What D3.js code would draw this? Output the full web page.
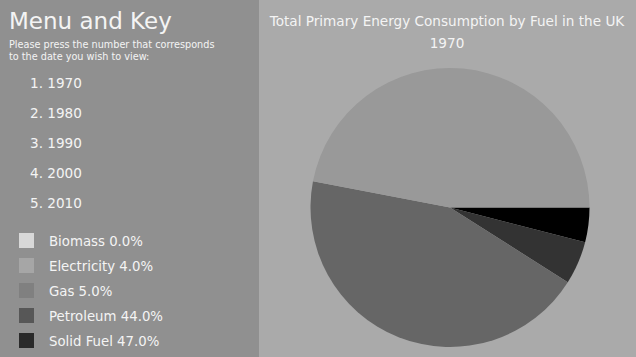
<!DOCTYPE html>
<html><head><meta charset="utf-8">
<script src="https://cdn.jsdelivr.net/npm/d3@7"></script>
<style>html,body{margin:0;padding:0;background:#aaaaaa;}svg{display:block;}</style>
</head><body>
<script>
const categories = ["Biomass", "Electricity", "Gas", "Petroleum", "Solid Fuel"];
const values = [0.0, 4.0, 5.0, 44.0, 47.0];
const years = ["1970", "1980", "1990", "2000", "2010"];
const keyColors = ["#d8d8d8", "#a6a6a6", "#808080", "#575757", "#2a2a2a"];
const pieColors = ["#d8d8d8", "#000000", "#333333", "#666666", "#999999"];
const chartTitle = "Total Primary Energy Consumption by Fuel in the UK";
const selectedYear = "1970";

const W = 636, H = 357, panelW = 259;
const font = "'DejaVu Sans', sans-serif";
const svg = d3.select("body").append("svg").attr("width", W).attr("height", H);

svg.append("rect").attr("x", 0).attr("y", 0).attr("width", W).attr("height", H).attr("fill", "#aaaaaa");
svg.append("rect").attr("x", 0).attr("y", 0).attr("width", panelW).attr("height", H).attr("fill", "#909090");

// Menu
svg.append("text").attr("x", 9).attr("y", 29).attr("fill", "#f4f4f4")
  .style("font-family", font).style("font-size", "23px").text("Menu and Key");
svg.append("text").attr("x", 9).attr("y", 48).attr("fill", "#f4f4f4")
  .style("font-family", font).style("font-size", "9.7px").text("Please press the number that corresponds");
svg.append("text").attr("x", 9).attr("y", 60).attr("fill", "#f4f4f4")
  .style("font-family", font).style("font-size", "9.7px").text("to the date you wish to view:");

svg.append("g").selectAll("text").data(years).join("text")
  .attr("x", 30).attr("y", (d, i) => 88 + i * 30)
  .attr("fill", "#f4f4f4").style("font-family", font).style("font-size", "13.6px")
  .text((d, i) => (i + 1) + ". " + d);

// Key
const key = svg.append("g").selectAll("g").data(categories).join("g")
  .attr("transform", (d, i) => `translate(0,${233 + i * 25})`);
key.append("rect").attr("x", 19).attr("y", 0).attr("width", 15).attr("height", 15)
  .attr("fill", (d, i) => keyColors[i]);
key.append("text").attr("x", 49).attr("y", 13).attr("fill", "#f4f4f4")
  .style("font-family", font).style("font-size", "13.3px")
  .text((d, i) => d + " " + values[i].toFixed(1) + "%");

// Title
const cx = 450, cy = 207.5, r = 139.5;
svg.append("text").attr("x", 447).attr("y", 26).attr("text-anchor", "middle").attr("fill", "#f4f4f4")
  .style("font-family", font).style("font-size", "13.6px").text(chartTitle);
svg.append("text").attr("x", 447).attr("y", 48).attr("text-anchor", "middle").attr("fill", "#f4f4f4")
  .style("font-family", font).style("font-size", "13.6px").text(selectedYear);

// Pie
const pie = d3.pie().sort(null).value(d => d.v)
  .startAngle(Math.PI / 2).endAngle(Math.PI / 2 + 2 * Math.PI);
const arc = d3.arc().innerRadius(0).outerRadius(r);
const data = categories.map((c, i) => ({ c, v: values[i], i }));
svg.append("g").attr("transform", `translate(${cx},${cy})`)
  .selectAll("path").data(pie(data)).join("path")
  .attr("d", arc).attr("fill", d => pieColors[d.data.i]);
</script>
</body></html>
